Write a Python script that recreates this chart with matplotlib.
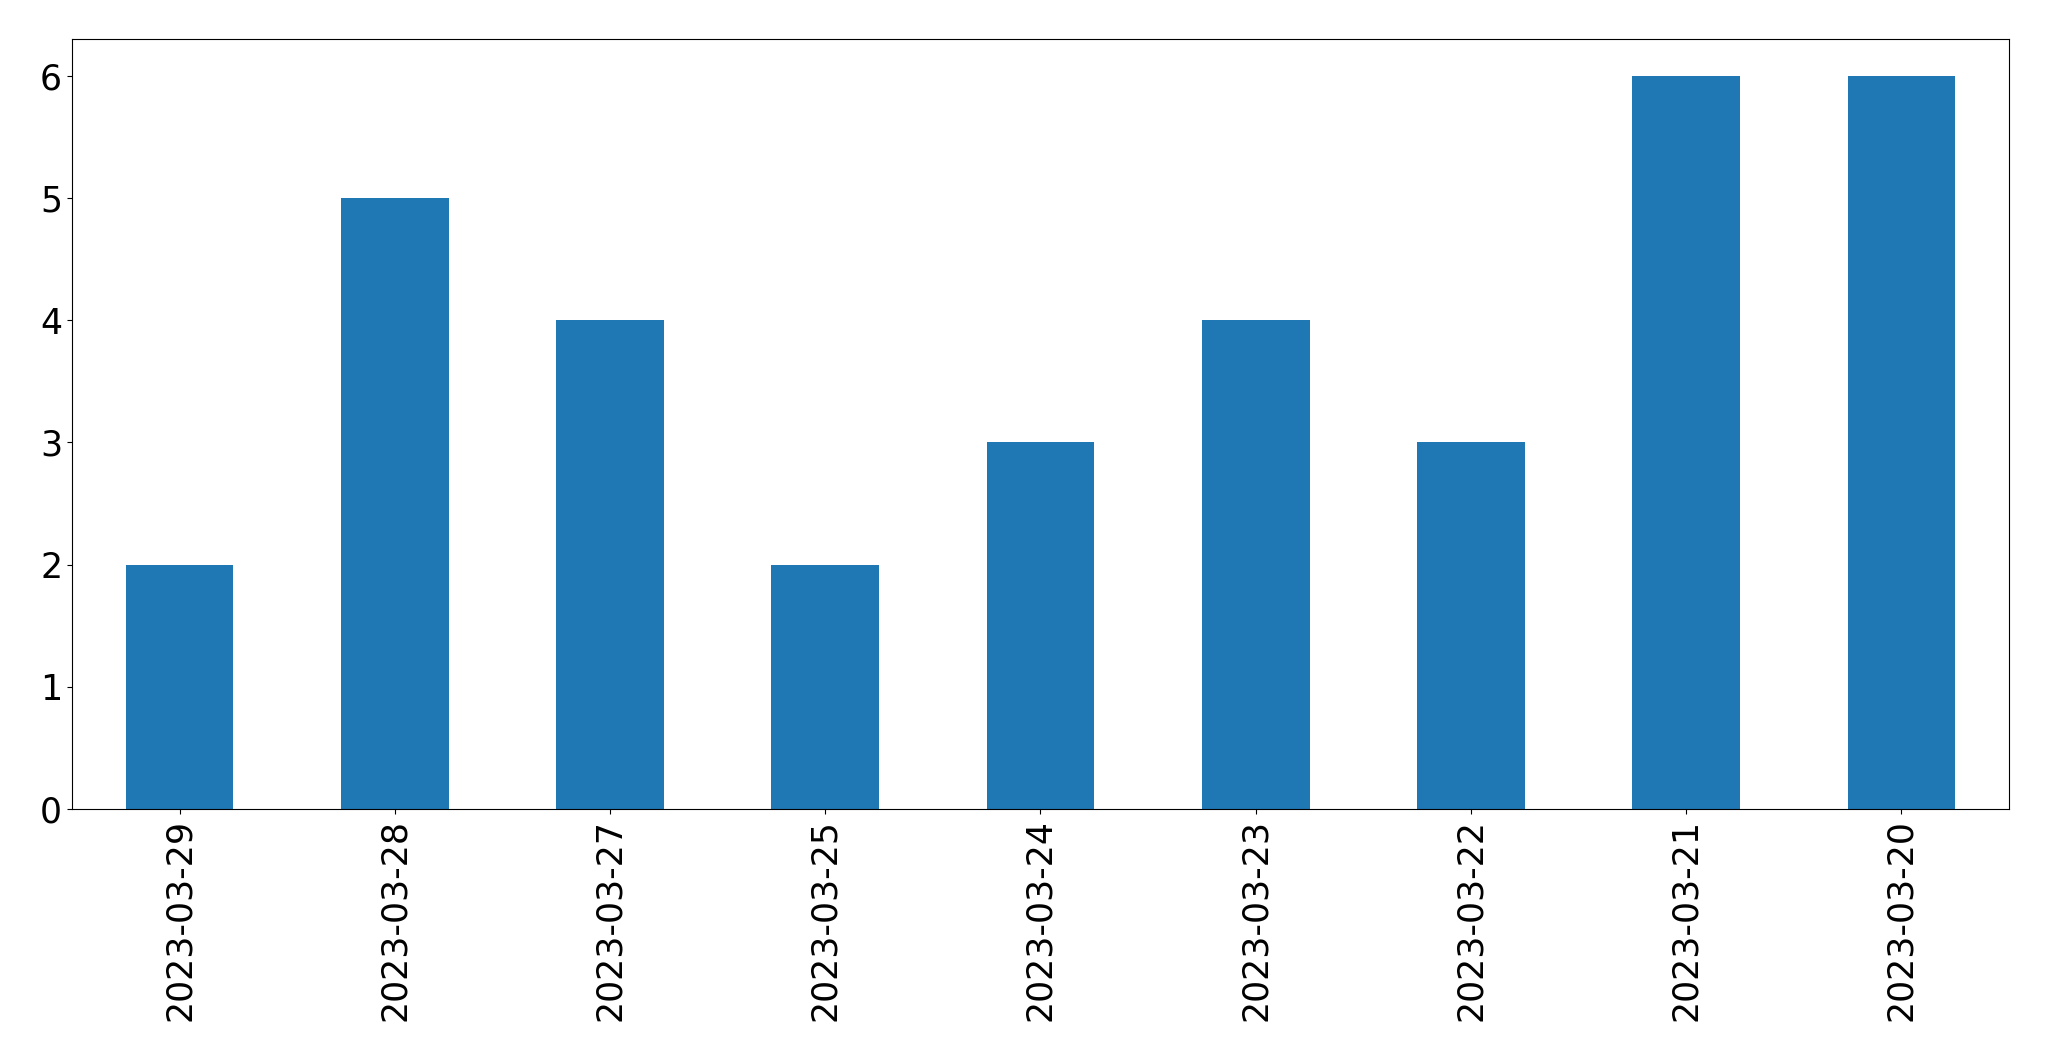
import matplotlib
matplotlib.use("Agg")
import matplotlib.pyplot as plt
import numpy as np

dates = ["2023-03-29", "2023-03-28", "2023-03-27", "2023-03-25", "2023-03-24",
         "2023-03-23", "2023-03-22", "2023-03-21", "2023-03-20"]
counts = [2, 5, 4, 2, 3, 4, 3, 6, 6]

fig = plt.figure(figsize=(20.49, 10.61), dpi=100)
ax = fig.add_axes([0.0351, 0.2375, 0.9454, 0.7257])
x = np.arange(len(dates))
ax.bar(x, counts, width=0.5, color="#1f77b4")
ax.set_xlim(-0.5, len(dates) - 0.5)
ax.set_ylim(0, 6.3)
ax.set_xticks(x)
ax.set_xticklabels(dates, rotation=90, fontsize=25)
ax.tick_params(axis="y", labelsize=25)
fig.savefig("out.png", dpi=100)
